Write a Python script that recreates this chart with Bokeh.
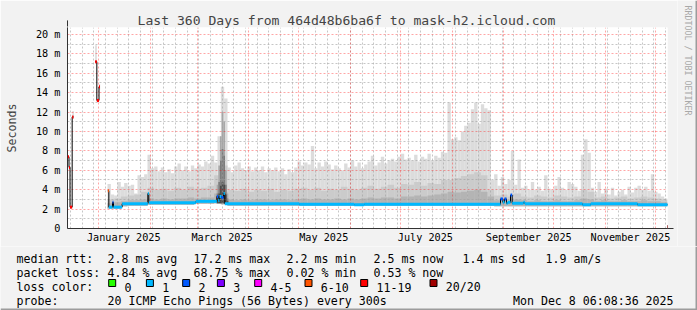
import math
from datetime import datetime, timedelta
from bokeh.plotting import figure
from bokeh.models import Range1d, FixedTicker, Arrow, NormalHead
from bokeh.layouts import column, row
from bokeh.core.properties import value
from bokeh.embed import file_html
from bokeh.resources import INLINE

NAN = float("nan")
FONT = "DejaVu Sans Mono"

# ---------------- data ----------------
TITLE = "Last 360 Days from 464d48b6ba6f to mask-h2.icloud.com"
END_TIME = datetime(2025, 12, 8, 6, 8, 36)
SPAN_DAYS = 360

# median rtt change points (day offset from chart start, ms, lost pings of 20)
med_day = [0.2, 0.9, 1.5, 2.8, 3.6, 16.6, 17.6, 18.9, 19.5, 24.2, 24.8, 27.0,
           27.6, 32.8, 48.2, 48.8, 77.0, 89.6, 90.4, 91.2, 92.4, 93.6, 94.4,
           139.0, 172.0, 178.0, 259.8, 261.2, 262.2, 263.4, 264.2, 265.8,
           266.8, 273.6, 274.4, 309.0, 314.0, 342.0]
med_val = [7.4, 6.3, 2.2, 11.5, NAN, 17.2, 13.2, 14.6, NAN, 3.9, 2.2, 2.7,
           2.2, 2.55, 3.6, 2.65, 2.8, 3.3, 2.9, 3.3, 3.2, 3.6, 2.55,
           2.5, 2.45, 2.5, 3.05, 2.7, 3.05, 2.6, 2.7, 3.45,
           2.6, 2.7, 2.55, 2.45, 2.55, 2.45]
med_loss = [13, 13, 13, 13, 0, 14, 14, 14, 0, 7, 1, 2,
            1, 1, 1, 1, 1, 2, 1, 1, 2, 1, 1,
            1, 1, 1, 2, 1, 2, 1, 1, 2,
            1, 1, 1, 1, 1, 1]

# smoke: 2-day bins of max rtt starting at day 24 (ms)
SMOKE_START = 24
smoke_max = [4.6, 3.5, 3.4, 4.8, 4.3, 4.7, 4.4, 4.5, 3.6, 5.5,
             5.3, 5.6, 7.6, 6.2, 6.4, 5.9, 6.3, 5.8, 6.1, 5.7,
             6.4, 6.7, 6.0, 6.4, 5.9, 6.5, 6.2, 6.6, 6.4, 6.9,
             6.7, 7.5, 6.8, 9.5, 14.6, 13.4, 6.3, 5.8, 6.5, 6.8,
             6.2, 6.0, 6.4, 5.9, 6.3, 6.0, 6.4, 5.8, 6.2, 6.0,
             6.3, 5.9, 6.2, 5.6, 6.1, 5.8, 6.3, 6.9, 6.5, 6.8,
             6.6, 8.5, 6.2, 6.8, 6.4, 6.9, 6.6, 6.1, 6.5, 6.2,
             6.0, 6.7, 6.3, 7.0, 6.4, 6.8, 6.2, 6.6, 6.9, 7.5,
             6.5, 6.8, 7.4, 6.7, 7.0, 7.2, 6.9, 7.4, 7.7, 7.1,
             7.3, 7.0, 7.6, 6.9, 7.4, 7.2, 7.7, 7.0, 7.5, 7.3,
             7.9, 7.8, 13.0, 9.2, 9.4, 9.1, 10.0, 10.6, 10.9, 12.3,
             13.0, 10.8, 12.8, 12.4, 12.2, 5.0, 5.6, 4.4, 5.3, 4.6,
             5.0, 8.0, 4.5, 7.1, 4.2, 4.4, 4.0, 4.8, 4.0, 4.3,
             3.9, 5.5, 4.1, 4.0, 4.4, 5.3, 4.2, 4.0, 4.8, 4.6,
             4.3, 3.9, 7.6, 9.2, 7.8, 4.2, 3.8, 4.8, 3.6, 4.1,
             3.5, 4.2, 3.4, 3.8, 4.0, 3.5, 4.3, 3.7, 4.2, 4.4,
             4.0, 4.3, 3.9, 5.6, 3.8, 3.6, 3.3, 3.1]

# 4-day bins starting at day 24 (ms)
smoke_mid = [3.0, 3.1, 3.3, 3.4, 3.5, 3.8, 4.2, 4.0, 4.1, 3.9,
             4.2, 4.0, 4.3, 4.1, 4.2, 4.4, 5.5, 6.5, 4.0, 3.9,
             4.1, 3.8, 4.0, 3.9, 4.1, 3.8, 4.0, 3.9, 4.1, 4.2,
             4.0, 4.2, 3.9, 4.1, 4.0, 4.3, 4.1, 4.0, 4.2, 4.4,
             4.1, 4.3, 4.5, 4.2, 4.6, 4.5, 4.8, 4.4, 4.7, 4.6,
             5.0, 5.0, 5.2, 5.4, 5.6, 5.8, 5.5, 4.0, 3.4, 3.5,
             3.3, 3.6, 3.3, 3.2, 3.4, 3.3, 3.2, 3.4, 3.3, 3.2,
             3.3, 4.0, 3.8, 3.2, 3.3, 3.1, 3.2, 3.3, 3.1, 3.2,
             3.3, 3.2, 3.1, 3.0]
smoke_dark = [2.6, 2.7, 2.8, 2.9, 2.9, 3.0,
              3.1, 3.0, 3.1, 3.0, 3.1, 3.1, 3.2, 3.1, 3.2, 3.2,
              3.6, 3.8,
              3.0, 2.9, 3.0, 2.9, 3.0, 3.0, 2.9, 3.0, 3.0, 2.9, 3.0, 3.1, 3.0,
              3.1, 3.0, 3.0, 3.1, 3.0, 3.1, 3.0, 3.1, 3.2, 3.1, 3.2, 3.2, 3.1,
              3.3, 3.3, 3.4, 3.3, 3.4, 3.5, 3.6, 3.8, 3.7, 3.8, 3.9, 4.0, 3.8, 3.3,
              2.9, 3.0, 2.9, 3.0, 2.9, 2.8, 2.9, 2.8, 2.8, 2.9, 2.8, 2.8, 2.9,
              3.1, 3.0, 2.8, 2.9, 2.8, 2.8, 2.9, 2.8, 2.8, 2.9, 2.8, 2.8, 2.7]
smoke_lo = ([2.05, 2.05, 2.3] + [2.35] * 3 + [2.45] * 7 +
            [2.55, 2.55, 2.55, 2.6, 2.5] + [2.35] * 40 + [2.3] * 26)

# early isolated smoke columns (day from, day to, low ms, high ms)
early_from = [2.9, 16.6, 18.8]
early_to = [3.8, 17.6, 19.6]
early_lo = [11.3, 17.1, 14.3]
early_hi = [12.1, 18.9, 14.9]

# March burst: 1-day bins, three darker smoke layers (ms)
burst_day = [89.5, 90.5, 91.5, 92.5, 93.5, 94.5, 95.5]
burst_a = [4.5, 6.5, 9.5, 12.0, 11.0, 6.0, 3.6]
burst_b = [3.6, 4.8, 7.0, 8.2, 7.5, 4.5, 3.1]
burst_c = [3.0, 3.6, 4.4, 4.8, 4.5, 3.5, 2.8]
burst_base = 2.6

y_ticks = [0, 2, 4, 6, 8, 10, 12, 14, 16, 18, 20]
y_labels = ["0", "2 m", "4 m", "6 m", "8 m", "10 m", "12 m", "14 m", "16 m", "18 m", "20 m"]
x_label_months = [(2025, 1), (2025, 3), (2025, 5), (2025, 7), (2025, 9), (2025, 11)]
x_labels = ["January 2025", "March 2025", "May 2025", "July 2025", "September 2025", "November 2025"]

loss_names = ["0", "1", "2", "3", "4-5", "6-10", "11-19", "20/20"]
loss_colors = ["#26FF00", "#00B8FF", "#0059FF", "#7E00FF", "#FF00FF", "#FF5500", "#FF0000", "#A10000"]

legend_rows = [
    [("median rtt:", 16), ("2.8 ms avg", 107), ("17.2 ms max", 193), ("2.2 ms min", 286),
     ("2.5 ms now", 373), ("1.4 ms sd", 462), ("1.9  am/s", 545)],
    [("packet loss:", 16), ("4.84 % avg", 107), ("68.75 % max", 193), ("0.02 % min", 286),
     ("0.53 % now", 373)],
    [("loss color:", 16)],
    [("probe:", 16), ("20 ICMP Echo Pings (56 Bytes) every 300s", 107)],
]
DATE_TEXT = "Mon Dec  8 06:08:36 2025"
CREDIT = "RRDTOOL / TOBI OETIKER"

# ---------------- helpers ----------------
START = END_TIME - timedelta(days=SPAN_DAYS)
BG = "#F2F2F2"
EDGE = "#9C9C9C"


def day_of(dt):
    return round((dt - START).total_seconds() / 86400.0, 4)


def loss_color(n):
    if n <= 3:
        return loss_colors[n]
    if n <= 5:
        return loss_colors[4]
    if n <= 10:
        return loss_colors[5]
    if n <= 19:
        return loss_colors[6]
    return loss_colors[7]


month_days = []
for mm in range(1, 13):
    d = day_of(datetime(2025, mm, 1))
    if 0 <= d <= SPAN_DAYS:
        month_days.append(d)
sunday_days = []
s = datetime(2024, 12, 15)
while day_of(s) <= SPAN_DAYS:
    sunday_days.append(day_of(s))
    s += timedelta(days=7)
label_days = [day_of(datetime(yy, mm, 16)) for yy, mm in x_label_months]

# ---------------- main figure ----------------
p = figure(width=677, height=246, x_range=Range1d(0, SPAN_DAYS), y_range=Range1d(0, 20.72),
           output_backend="svg", toolbar_location=None, title=TITLE,
           min_border_left=67, min_border_right=10, min_border_top=27, min_border_bottom=18)
p.frame_align = False
p.background_fill_color = "white"
p.border_fill_color = BG
p.outline_line_color = None
p.title.text_font = FONT
p.title.text_font_size = "13.1px"
p.title.text_font_style = "normal"
p.title.align = "left"
p.title.offset = 70
p.title.standoff = 0

p.xaxis.ticker = FixedTicker(ticks=label_days)
p.xaxis.major_label_overrides = {d: t for d, t in zip(label_days, x_labels)}
p.yaxis.ticker = FixedTicker(ticks=y_ticks)
p.yaxis.major_label_overrides = {v: t for v, t in zip(y_ticks, y_labels)}
for ax in (p.xaxis, p.yaxis):
    ax.major_label_text_font = FONT
    ax.major_label_text_font_size = "10.2px"
    ax.major_label_text_color = "black"
    ax.major_tick_line_color = None
    ax.minor_tick_line_color = None
    ax.major_tick_out = 0
    ax.major_tick_in = 0
    ax.minor_tick_out = 0
    ax.minor_tick_in = 0
    ax.axis_line_color = "#333333"
p.xaxis.major_label_standoff = 3
p.yaxis.major_label_standoff = 7
p.yaxis.axis_label = "Seconds"
p.yaxis.axis_label_text_font = FONT
p.yaxis.axis_label_text_font_size = "11.6px"
p.yaxis.axis_label_text_font_style = "normal"
p.yaxis.axis_label_standoff = 14

p.xgrid.ticker = FixedTicker(ticks=month_days, minor_ticks=sunday_days)
p.ygrid.ticker = FixedTicker(ticks=y_ticks, minor_ticks=[v + 1 for v in y_ticks[:-1]])
for g in (p.xgrid, p.ygrid):
    g.grid_line_color = "#FF0000"
    g.grid_line_alpha = 0.35
    g.grid_line_dash = "2 2"
    g.minor_grid_line_color = "#A0A0A0"
    g.minor_grid_line_alpha = 0.6
    g.minor_grid_line_dash = "2 2"
    g.level = "glyph"

# smoke layers
lefts2 = [SMOKE_START + 2 * k for k in range(len(smoke_max))]
lo2 = [smoke_lo[k // 2] for k in range(len(smoke_max))]
p.quad(left=lefts2, right=[l + 2 for l in lefts2], bottom=lo2, top=smoke_max,
       fill_color="#DCDCDC", line_color=None, level="underlay")
lefts4 = [SMOKE_START + 4 * j for j in range(len(smoke_mid))]
p.quad(left=lefts4, right=[l + 4 for l in lefts4], bottom=smoke_lo, top=smoke_mid,
       fill_color="#CBCBCB", line_color=None, level="underlay")
p.quad(left=lefts4, right=[l + 4 for l in lefts4], bottom=smoke_lo, top=smoke_dark,
       fill_color="#B4B4B4", line_color=None, level="underlay")
p.quad(left=early_from, right=early_to, bottom=early_lo, top=early_hi,
       fill_color="#DCDCDC", line_color=None, level="underlay")
for layer, col in ((burst_a, "#A8A8A8"), (burst_b, "#7C7C7C"), (burst_c, "#4A4A4A")):
    p.quad(left=burst_day, right=[d + 1 for d in burst_day], bottom=[burst_base] * len(burst_day),
           top=layer, fill_color=col, line_color=None, level="underlay")

# median line: black steps, coloured by loss on top
bx, by = [], []
ends = med_day[1:] + [SPAN_DAYS]
for i, (d0, d1, v) in enumerate(zip(med_day, ends, med_val)):
    if math.isnan(v):
        bx.append(NAN); by.append(NAN)
        continue
    bx += [d0, d1]
    by += [v, v]
    nxt = med_val[i + 1] if i + 1 < len(med_val) else NAN
    if not math.isnan(nxt):
        bx.append(d1); by.append(nxt)
p.line(bx, by, line_color="#000000", line_width=1, level="annotation")
sx0, sx1, sy, sc = [], [], [], []
for d0, d1, v, n in zip(med_day, ends, med_val, med_loss):
    if math.isnan(v):
        continue
    sx0.append(d0); sx1.append(d1); sy.append(v); sc.append(loss_color(n))
p.segment(x0=sx0, y0=sy, x1=sx1, y1=sy, line_color=sc, line_width=3, level="annotation")

# axis arrows
p.add_layout(Arrow(x_start=0, y_start=0, x_end=0, y_end=21.45, line_color="#333333", line_width=1,
                   end=NormalHead(size=6, fill_color="#7A0000", line_color="#7A0000")))
p.add_layout(Arrow(x_start=0, y_start=0, x_end=363.6, y_end=0, line_color="#333333", line_width=1,
                   end=NormalHead(size=6, fill_color="#7A0000", line_color="#7A0000")))


def blank_fig(w, h, xr, yr):
    f = figure(width=w, height=h, x_range=xr, y_range=yr, output_backend="svg",
               toolbar_location=None, x_axis_location=None, y_axis_location=None,
               min_border_left=0, min_border_right=0, min_border_top=0, min_border_bottom=0)
    f.frame_align = False
    f.grid.visible = False
    f.background_fill_color = BG
    f.border_fill_color = BG
    f.outline_line_color = None
    return f


# ---------------- credit strip (right edge) ----------------
c = blank_fig(20, 246, Range1d(0, 20), Range1d(0, 246))
c.text(x=[10], y=[241], text=[CREDIT], angle=-math.pi / 2, text_font=value(FONT),
       text_font_size=value("8.3px"), text_color="#A8A8A8", text_align="left",
       text_baseline="middle")
c.quad(left=[18], right=[20], bottom=[0], top=[246], fill_color=EDGE, line_color=None)

# ---------------- legend figure ----------------
q = blank_fig(697, 64, Range1d(0, 697), Range1d(64, 0))
baselines = [12.3, 26.3, 40.5, 54.0]
tx, ty, tt = [], [], []
for rw, base in zip(legend_rows, baselines):
    for text, x in rw:
        tx.append(x); ty.append(base); tt.append(text)
q.text(x=tx, y=ty, text=tt, text_font=value(FONT), text_font_size=value("11.6px"),
       text_baseline="alphabetic", text_align="left", text_color="black")
q.text(x=[680], y=[baselines[3]], text=[DATE_TEXT], text_font=value(FONT),
       text_font_size=value("11.6px"), text_baseline="alphabetic", text_align="right",
       text_color="black")

sq_left = [108, 145.7, 182, 216.7, 254, 304.3, 360, 429.3]
q.rect(x=[l + 3.7 for l in sq_left], y=[36.5] * len(sq_left), width=7, height=7,
       fill_color=loss_colors, line_color="black", line_width=1)
q.text(x=[l + 16 for l in sq_left], y=[baselines[2]] * len(sq_left), text=loss_names,
       text_font=value(FONT), text_font_size=value("11.6px"), text_baseline="alphabetic",
       text_align="left", text_color="black")
q.quad(left=[0, 695], right=[697, 697], bottom=[64, 64], top=[62, 0], fill_color=EDGE,
       line_color=None)

layout = column(row(p, c, spacing=0), q, spacing=0)
open("out.html", "w").write(file_html(layout, INLINE))
